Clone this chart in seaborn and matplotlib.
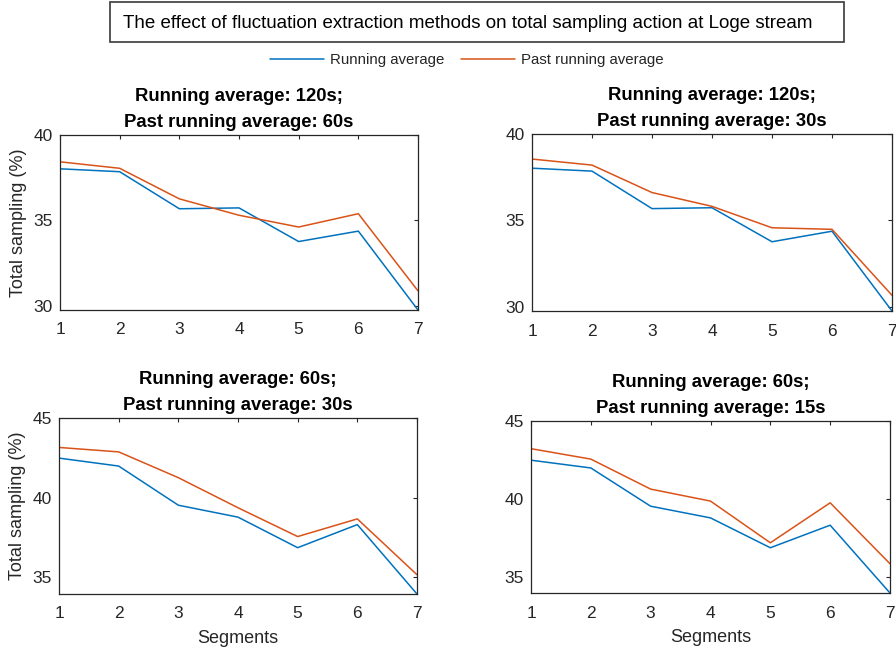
import matplotlib
matplotlib.use("Agg")
import matplotlib.pyplot as plt
import seaborn as sns
import pandas as pd
from matplotlib.patches import Rectangle
from matplotlib.lines import Line2D

sns.set_theme(style="white")
plt.rcParams["font.family"] = ["Liberation Sans", "DejaVu Sans"]

segments = [1, 2, 3, 4, 5, 6, 7]

# Running average series (one per window length)
running_120s = [38.02, 37.85, 35.68, 35.73, 33.76, 34.37, 29.75]
running_60s = [42.48, 41.98, 39.52, 38.77, 36.85, 38.30, 33.94]

# Past running average series
past_60s_a = [38.43, 38.05, 36.26, 35.30, 34.61, 35.39, 30.87]
past_30s_a = [38.55, 38.20, 36.61, 35.81, 34.57, 34.48, 30.66]
past_30s_b = [43.15, 42.87, 41.25, 39.36, 37.55, 38.66, 35.15]
past_15s_b = [43.22, 42.55, 40.62, 39.85, 37.17, 39.74, 35.82]

panel_titles = [
    "Running average: 120s;\nPast running average: 60s",
    "Running average: 120s;\nPast running average: 30s",
    "Running average: 60s;\nPast running average: 30s",
    "Running average: 60s;\nPast running average: 15s",
]
panel_running = [running_120s, running_120s, running_60s, running_60s]
panel_past = [past_60s_a, past_30s_a, past_30s_b, past_15s_b]
panel_yticks = [[30, 35, 40], [30, 35, 40], [35, 40, 45], [35, 40, 45]]
panel_ytop = [40, 40, 45, 45]

series_names = ["Running average", "Past running average"]
colors = {"Running average": "#0072BD", "Past running average": "#D95319"}

W, H = 896, 652
fig = plt.figure(figsize=(W / 100, H / 100), dpi=100)
fig.patch.set_facecolor("white")

def px_axes(left, top, right, bottom):
    return fig.add_axes([left / W, 1 - bottom / H, (right - left) / W, (bottom - top) / H])

boxes = [(60, 135, 418, 310), (532, 134, 892, 311), (59, 418, 417, 594), (531, 421, 890, 593)]
text_color = "#262626"

for i, (box, title, run, past, yt, ytop) in enumerate(
        zip(boxes, panel_titles, panel_running, panel_past, panel_yticks, panel_ytop)):
    ax = px_axes(*box)
    df = pd.DataFrame({
        "Segment": segments * 2,
        "Value": run + past,
        "Series": [series_names[0]] * 7 + [series_names[1]] * 7,
    })
    sns.lineplot(data=df, x="Segment", y="Value", hue="Series", palette=colors,
                 ax=ax, linewidth=1.1, legend=False)
    ax.set_xlim(1, 7)
    ax.set_ylim(min(run + past), ytop)
    ax.set_xticks(segments)
    ax.set_yticks(yt)
    ax.tick_params(direction="in", length=3, width=0.8, top=True, right=True,
                   labelsize=12.5, colors=text_color, labelcolor=text_color)
    ax.tick_params(axis="x", pad=9)
    ax.tick_params(axis="y", pad=5)
    for sp in ax.spines.values():
        sp.set_color(text_color)
        sp.set_linewidth(0.9)
    ax.set_title(title, fontsize=13.3, fontweight="bold", color="black",
                 linespacing=1.7, pad=6)
    ax.set_xlabel("Segments" if i >= 2 else "", fontsize=13, color=text_color, labelpad=6)
    ax.set_ylabel("Total sampling (%)" if i % 2 == 0 else "", fontsize=13,
                  color=text_color, labelpad=5)

# Boxed figure title
fig.patches.append(Rectangle((110 / W, 1 - 42 / H), (844 - 110) / W, 40 / H,
                             transform=fig.transFigure, fill=False,
                             edgecolor="#3a3a3a", linewidth=1.2))
fig.text(468 / W, 1 - 23 / H,
         "The effect of fluctuation extraction methods on total sampling action at Loge stream",
         ha="center", va="center", fontsize=13.5, color="black")

# Shared legend
handles = [Line2D([0], [0], color=colors[n], linewidth=1.1) for n in series_names]
fig.legend(handles, series_names, loc="center", bbox_to_anchor=(467 / W, 1 - 60 / H),
           ncol=2, frameon=False, fontsize=10.8, handlelength=3.6, columnspacing=1.1,
           handletextpad=0.4, labelcolor=text_color)

fig.savefig("out.png", dpi=100)
